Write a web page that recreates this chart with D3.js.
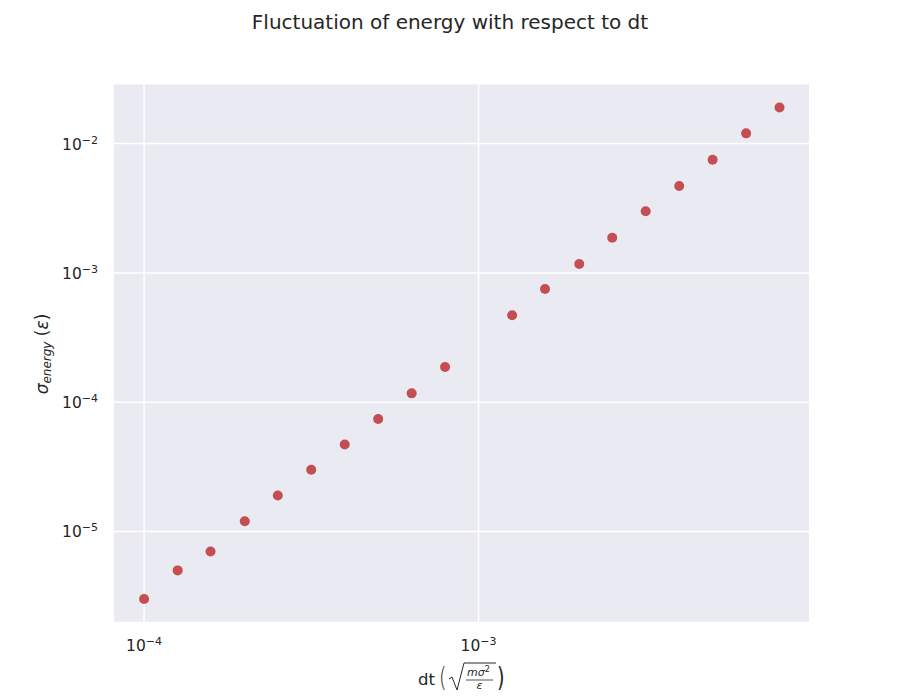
<!DOCTYPE html>
<html>
<head>
	<title>Fluctuation of energy with respect to dt</title>
	<meta charset="utf-8">
	<script src="https://cdnjs.cloudflare.com/ajax/libs/d3/7.8.5/d3.min.js"></script>
	<style type="text/css">
		body { margin: 0; background: #fff; }
		text { font-family: "DejaVu Sans", sans-serif; fill: #262626; }
	</style>
</head>
<body>
	<script type="text/javascript">

		// time step values (reduced units)
		let dtValues = [1.0e-4, 1.26e-4, 1.58e-4, 2.0e-4, 2.51e-4, 3.16e-4, 3.98e-4, 5.01e-4, 6.31e-4, 7.94e-4,
			1.26e-3, 1.58e-3, 2.0e-3, 2.51e-3, 3.16e-3, 3.98e-3, 5.01e-3, 6.31e-3, 7.94e-3];
		// standard deviation of the total energy
		let sigmaEnergy = [3.0e-6, 5.0e-6, 7.0e-6, 1.2e-5, 1.9e-5, 3.0e-5, 4.7e-5, 7.4e-5, 1.17e-4, 1.87e-4,
			4.7e-4, 7.5e-4, 1.17e-3, 1.87e-3, 3.0e-3, 4.7e-3, 7.5e-3, 1.2e-2, 1.9e-2];
		let xTicks = [1e-4, 1e-3];
		let xTickExp = ['−4', '−3'];
		let yTicks = [1e-5, 1e-4, 1e-3, 1e-2];
		let yTickExp = ['−5', '−4', '−3', '−2'];

		let data = dtValues.map((d, i) => ({dt: d, sigma: sigmaEnergy[i]}));

		let W = 900, H = 700;
		let pLeft = 114, pRight = 809, pTop = 84.5, pBottom = 621.7;

		let svg = d3.select('body').append('svg')
			.attr('width', W)
			.attr('height', H);

		let xScale = d3.scaleLog().domain([Math.pow(10, -4.09), Math.pow(10, -2.012)]).range([pLeft, pRight]);
		let yScale = d3.scaleLog().domain([Math.pow(10, -5.698), Math.pow(10, -1.543)]).range([pBottom, pTop]);

		// background
		svg.append('rect')
			.attr('x', pLeft).attr('y', pTop)
			.attr('width', pRight - pLeft).attr('height', pBottom - pTop)
			.attr('fill', '#eaeaf2');

		// grid
		svg.selectAll('.xgrid').data(xTicks).enter().append('line')
			.attr('x1', d => xScale(d)).attr('x2', d => xScale(d))
			.attr('y1', pTop).attr('y2', pBottom)
			.attr('stroke', '#fff').attr('stroke-width', 1.5);
		svg.selectAll('.ygrid').data(yTicks).enter().append('line')
			.attr('y1', d => yScale(d)).attr('y2', d => yScale(d))
			.attr('x1', pLeft).attr('x2', pRight)
			.attr('stroke', '#fff').attr('stroke-width', 1.5);

		// tick labels
		let xl = svg.selectAll('.xlab').data(xTicks).enter().append('text')
			.attr('x', d => xScale(d))
			.attr('y', 651)
			.attr('text-anchor', 'middle')
			.attr('font-size', 15.5);
		xl.append('tspan').text('10');
		xl.append('tspan').attr('dy', -6).attr('font-size', 11).text((d, i) => xTickExp[i]);

		let yl = svg.selectAll('.ylab').data(yTicks).enter().append('text')
			.attr('x', 98)
			.attr('y', d => yScale(d) + 6)
			.attr('text-anchor', 'end')
			.attr('font-size', 15.5);
		yl.append('tspan').text('10');
		yl.append('tspan').attr('dy', -6).attr('font-size', 11).text((d, i) => yTickExp[i]);

		// points
		svg.selectAll('circle').data(data).enter().append('circle')
			.attr('cx', d => xScale(d.dt))
			.attr('cy', d => yScale(d.sigma))
			.attr('r', 5)
			.attr('fill', '#c44e52');

		// title
		svg.append('text')
			.attr('x', 450).attr('y', 29)
			.attr('text-anchor', 'middle')
			.attr('font-size', 20)
			.text('Fluctuation of energy with respect to dt');

		// x label: dt ( sqrt(m sigma^2 / epsilon) )
		let xlab = svg.append('g');
		xlab.append('text').attr('x', 418).attr('y', 685).attr('font-size', 16.5).text('dt');
		xlab.append('text').attr('x', 439).attr('y', 686).attr('font-size', 26)
			.attr('transform', 'translate(439,686) scale(0.75,1) translate(-439,-686)')
			.attr('font-weight', 200).text('(');
		xlab.append('text').attr('x', 497).attr('y', 686).attr('font-size', 26)
			.attr('transform', 'translate(497,686) scale(0.75,1) translate(-497,-686)')
			.text(')');
		xlab.append('path')
			.attr('d', 'M449,679 L452,677 L457,690 L464,663 L496,663')
			.attr('fill', 'none').attr('stroke', '#262626').attr('stroke-width', 1);
		let num = xlab.append('text').attr('x', 467).attr('y', 676).attr('font-size', 11).attr('font-style', 'italic');
		num.append('tspan').text('mσ');
		num.append('tspan').attr('dy', -4).attr('font-size', 8).attr('font-style', 'normal').text('2');
		xlab.append('line').attr('x1', 466).attr('x2', 493).attr('y1', 680).attr('y2', 680)
			.attr('stroke', '#262626').attr('stroke-width', 0.8);
		xlab.append('text').attr('x', 479.5).attr('y', 689).attr('font-size', 11)
			.attr('text-anchor', 'middle').attr('font-style', 'italic').text('ε');

		// y label
		let ylab = svg.append('text')
			.attr('transform', 'translate(48,354) rotate(-90)')
			.attr('text-anchor', 'middle')
			.attr('font-size', 17);
		ylab.append('tspan').attr('font-style', 'italic').text('σ');
		ylab.append('tspan').attr('font-style', 'italic').attr('font-size', 12).attr('dy', 3).text('energy');
		ylab.append('tspan').attr('dy', -3).text(' (');
		ylab.append('tspan').attr('font-style', 'italic').text('ε');
		ylab.append('tspan').text(')');
	</script>
</body>
</html>
